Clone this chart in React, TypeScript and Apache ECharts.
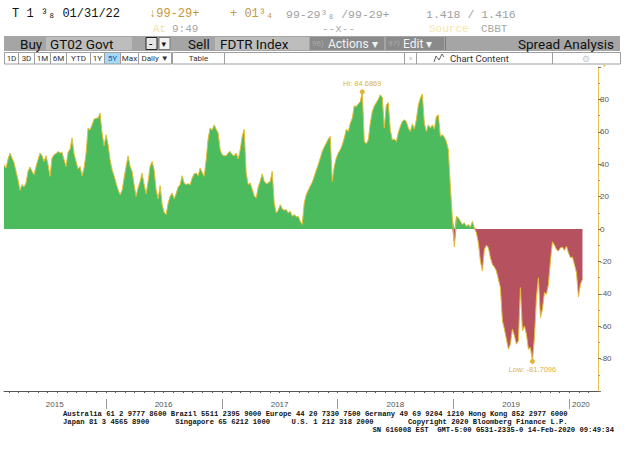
import { useEffect, useRef } from 'react';
import * as echarts from 'echarts';

// Spread GT02 Govt vs FDTR Index (bp), sampled every ~6 days
const firstDate = '2015-02-14';
const lastDate = '2020-02-12';
const spreadBp = [
  39.7, 37.6, 43.2, 46.9, 43.8, 41.1, 35.6, 30.5, 23.9, 27.4,
  26.0, 28.4, 35.6, 38.3, 35.6, 33.5, 38.6, 42.8, 46.9, 45.2,
  41.7, 45.2, 39.7, 32.5, 43.8, 45.8, 46.5, 47.9, 46.9, 47.3,
  42.8, 38.6, 47.3, 49.3, 56.1, 46.5, 41.7, 37.0, 38.6, 32.9,
  37.6, 46.9, 62.3, 61.2, 64.3, 67.8, 68.4, 68.4, 71.5, 59.2,
  51.4, 58.2, 52.0, 42.8, 36.6, 32.9, 28.4, 24.3, 21.2, 23.9,
  31.5, 38.6, 45.2, 38.6, 35.6, 27.4, 20.2, 25.3, 29.4, 34.5,
  27.4, 21.8, 29.4, 38.6, 41.7, 36.6, 24.3, 18.6, 26.8, 15.1,
  10.3, 8.9, 16.1, 20.2, 22.2, 18.6, 21.8, 25.9, 27.4, 32.9,
  28.4, 27.4, 28.0, 27.4, 31.5, 34.1, 34.5, 32.9, 37.6, 35.0,
  32.5, 42.8, 56.1, 62.3, 61.2, 64.3, 61.6, 59.2, 48.9, 45.8,
  45.2, 45.2, 46.9, 47.9, 45.8, 45.2, 46.9, 43.2, 48.9, 57.1,
  61.6, 34.6, 27.4, 28.4, 24.7, 20.6, 19.2, 25.9, 29.4, 34.1,
  29.4, 28.0, 28.4, 29.4, 35.6, 16.1, 9.9, 11.6, 15.1, 12.4,
  11.6, 12.0, 9.9, 11.0, 7.9, 8.9, 7.5, 7.9, 4.8, 2.8,
  16.1, 21.2, 23.9, 26.4, 28.8, 32.5, 36.2, 39.7, 43.8, 47.9,
  50.6, 53.0, 55.5, 57.1, 29.4, 38.6, 43.8, 46.9, 48.9, 52.0,
  56.1, 61.6, 60.2, 65.3, 68.4, 76.0, 75.6, 77.2, 78.7, 84.6869,
  54.0, 52.6, 55.0, 65.3, 72.5, 76.0, 78.0, 80.1, 82.8, 81.3,
  62.3, 76.6, 78.0, 61.2, 55.0, 55.5, 54.0, 59.6, 63.3, 66.4,
  67.4, 66.4, 62.3, 60.2, 64.9, 61.6, 67.4, 76.6, 80.7, 83.4,
  65.3, 60.2, 64.3, 62.3, 64.3, 61.6, 69.4, 70.5, 57.1, 58.2,
  56.7, 54.0, 48.9, 26.4, 6.9, -11.0, 7.9, 6.9, 4.8, 2.8,
  3.8, 1.7, 2.8, 1.1, 4.8, 0.7, -2.4, -8.5, -19.8, -26.0,
  -12.6, -10.0, -11.6, -17.7, -21.9, -23.5, -26.0, -31.1, -36.2, -56.7,
  -61.8, -68.0, -74.2, -71.1, -61.8, -65.9, -71.1, -69.0, -36.2, -62.9,
  -59.8, -65.0, -74.2, -73.1, -81.7096, -67.0, -42.4, -30.1, -54.7, -49.5,
  -39.3, -40.3, -34.2, -19.8, -7.9, -10.0, -12.6, -13.6, -11.6, -11.2,
  -13.2, -10.6, -14.7, -17.7, -17.3, -21.9, -27.0, -42.0, -34.0, -31.1,
];

const axisStart = '2015-02-14';
const axisEnd = '2020-04-01';
const yearLabels = ['2015', '2016', '2017', '2018', '2019', '2020'];
const yearLabelDates = ['2015-07-24', '2016-07-01', '2017-07-02', '2018-07-02', '2019-07-02', '2020-02-07'];
const yearStartDates = ['2016-01-01', '2017-01-01', '2018-01-01', '2019-01-01', '2020-01-01'];
const yMin = -100;
const yMax = 100;
const yInterval = 20;

const footerLines = [
  'Australia 61 2 9777 8600 Brazil 5511 2395 9000 Europe 44 20 7330 7500 Germany 49 69 9204 1210 Hong Kong 852 2977 6000',
  'Japan 81 3 4565 8900      Singapore 65 6212 1000     U.S. 1 212 318 2000        Copyright 2020 Bloomberg Finance L.P.',
  'SN 616008 EST  GMT-5:00 G531-2335-0 14-Feb-2020 09:49:34',
];

const ts = (d: string) => new Date(d + 'T00:00:00Z').getTime();

const GREEN = '#4CBB5E';
const RED = '#B6525F';
const GOLD = '#E3BE3A';

function txt(x: number, y: number, text: string, fill: string, size: number, family = 'Liberation Mono', extra: any = {}) {
  return {
    type: 'text',
    x,
    y,
    silent: true,
    style: { text, fill, fontSize: size, fontFamily: family, verticalAlign: 'middle', align: 'left', ...extra },
  };
}
function box(x: number, y: number, w: number, h: number, fill: string, stroke?: string) {
  return {
    type: 'rect',
    silent: true,
    shape: { x, y, width: w, height: h },
    style: { fill, stroke: stroke || null, lineWidth: stroke ? 1 : 0 },
  };
}

export default function App() {
  const ref = useRef<HTMLDivElement>(null);
  useEffect(() => {
    if (!ref.current) return;
    const chart = echarts.init(ref.current, null, { renderer: 'svg' });
    const t0 = ts(firstDate);
    const t1 = ts(lastDate);
    const n = spreadBp.length;
    const dates = spreadBp.map((_, i) => t0 + ((t1 - t0) * i) / (n - 1));
    const full = spreadBp.map((v, i) => [dates[i], v]);
    const pos = spreadBp.map((v, i) => [dates[i], v > 0 ? v : 0]);
    const neg = spreadBp.map((v, i) => [dates[i], v < 0 ? v : 0]);

    const monthTicks: number[] = [];
    for (let y = 2015; y <= 2020; y++) {
      for (let m = 0; m < 12; m++) {
        const t = Date.UTC(y, m, 1);
        if (t > ts(axisStart) && t < ts(axisEnd)) monthTicks.push(t);
      }
    }
    const labelTs = yearLabelDates.map(ts);
    const sepTs = yearStartDates.map(ts);

    const btnFont = 'Roboto';
    const row4 = [
      [4, 14, '1D'], [18, 16, '3D'], [34, 16, '1M'], [50, 16, '6M'], [66, 24, 'YTD'], [90, 14, '1Y'],
      [104, 16, '5Y'], [120, 18, 'Max'], [138, 33, 'Daily ▼'], [172, 52, 'Table'], [224, 180, ''],
      [404, 12, '«'], [416, 136, 'Chart Content'], [552, 68, ''],
    ] as [number, number, string][];

    const graphic: any[] = [
      txt(12, 14, 'T 1 ³₈ 01/31/22', '#111', 12),
      txt(149, 14, '↓99-29+', '#C8963C', 12),
      txt(230, 14, '+ 01³₄', '#C8963C', 12),
      txt(286, 14, '99-29³₈ /99-29+', '#A0A0A0', 11.5),
      txt(426, 14, '1.418 / 1.416', '#A0A0A0', 11.5),
      txt(153, 29, 'At', '#F2E2A6', 11),
      txt(172, 29, '9:49', '#A8A8A8', 11),
      txt(322, 29, '--x--', '#B0B0B0', 11),
      txt(429, 29, 'Source', '#F4E6B0', 11),
      txt(481, 29, 'CBBT', '#A8A8A8', 11),
      box(4, 36, 616, 15, '#A5A5A5'),
      txt(20, 43.5, 'Buy', '#111', 13.5, btnFont),
      box(46, 37, 86, 13, '#BDBDBD'),
      txt(50, 43.5, 'GT02 Govt', '#111', 13.5, btnFont),
      box(146, 37.5, 11, 12, '#E6E6E6', '#222'),
      txt(149, 43.5, '-', '#111', 12, btnFont),
      box(159, 37.5, 11, 12, '#F2F2F2', '#777'),
      txt(161.5, 44, '▾', '#111', 9, 'DejaVu Sans'),
      txt(188, 43.5, 'Sell', '#111', 13.5, btnFont),
      box(215, 37, 94, 13, '#BDBDBD'),
      txt(220, 43.5, 'FDTR Index', '#111', 13.5, btnFont),
      box(310, 37, 74, 13, '#8A8A8A'),
      txt(312, 43.5, '96)', '#ABABAB', 8, btnFont),
      txt(328, 43.5, 'Actions ▾', '#F2F2F2', 12, btnFont),
      box(386, 37, 58, 13, '#8A8A8A'),
      txt(388, 43.5, '97)', '#ABABAB', 8, btnFont),
      txt(403, 43.5, 'Edit ▾', '#F2F2F2', 12, btnFont),
      box(445, 37, 1, 13, '#7A7A7A'),
      txt(614, 43.5, 'Spread Analysis', '#111', 13.5, btnFont, { align: 'right' }),
    ];
    row4.forEach(([x, w, label]) => {
      const active = label === '5Y';
      graphic.push(box(x + 0.5, 52.5, w, 11.5, active ? '#A6D8F7' : '#FFFFFF', '#9E9E9E'));
      if (label) {
        const cc = label === 'Chart Content';
        graphic.push(
          txt(cc ? x + 34 : x + w / 2 + 0.5, 58.5, label,
            active ? '#1F5FA8' : label === '«' ? '#B5B5B5' : '#333', cc ? 9.5 : 8, btnFont,
            { align: cc ? 'left' : 'center' }),
        );
      }
    });
    graphic.push(
      { type: 'polyline', silent: true, shape: { points: [[434, 62], [436, 56], [439, 60], [442, 54], [444, 57]] }, style: { stroke: '#666', lineWidth: 1, fill: null } },
      txt(586, 58.5, '⚙', '#C8C8C8', 9, 'DejaVu Sans', { align: 'center' }),
      { type: 'polygon', silent: true, shape: { points: [[603, 65], [606, 65], [604.5, 67]] }, style: { fill: '#E8C440' } },
      txt(63, 414, footerLines[0], '#111', 7.2, 'Liberation Mono', { fontWeight: 'bold' }),
      txt(63, 422, footerLines[1], '#111', 7.2, 'Liberation Mono', { fontWeight: 'bold' }),
      txt(614, 430, footerLines[2], '#111', 7.2, 'Liberation Mono', { fontWeight: 'bold', align: 'right' }),
    );

    chart.setOption({
      animation: false,
      backgroundColor: '#FFFFFF',
      grid: { left: 4, right: 26, top: 67, bottom: 59, containLabel: false },
      xAxis: [
        {
          type: 'value',
          min: ts(axisStart),
          max: ts(axisEnd),
          position: 'bottom',
          axisLine: { show: true, onZero: false, lineStyle: { color: '#555', width: 1 } },
          axisTick: { show: true, customValues: monthTicks, length: 2, lineStyle: { color: '#555' } },
          axisLabel: {
            show: true,
            customValues: labelTs,
            margin: 9,
            color: '#555',
            fontSize: 8,
            fontFamily: 'Liberation Sans',
            showMinLabel: true,
            showMaxLabel: true,
            formatter: (v: number) => {
              const i = labelTs.findIndex((t) => Math.abs(t - v) < 86400000);
              return i >= 0 ? yearLabels[i] : '';
            },
          },
          splitLine: { show: false },
        },
        {
          type: 'value',
          min: ts(axisStart),
          max: ts(axisEnd),
          position: 'bottom',
          offset: 8,
          axisLine: { show: false, onZero: false },
          axisTick: { show: true, customValues: sepTs, length: 10, lineStyle: { color: '#9A9A9A' } },
          axisLabel: { show: false },
          splitLine: { show: false },
        },
      ],
      yAxis: {
        type: 'value',
        position: 'right',
        min: yMin,
        max: yMax,
        interval: yInterval,
        axisLine: { show: true, lineStyle: { color: '#E5C44E', width: 1 } },
        axisTick: { show: true, length: 3, lineStyle: { color: '#777' } },
        minorTick: { show: true, splitNumber: 2, length: 2, lineStyle: { color: '#999' } },
        splitLine: { show: false },
        axisLabel: {
          margin: 2,
          color: '#555',
          fontSize: 8,
          fontFamily: 'Liberation Sans',
          formatter: (v: number) => (Math.abs(v) >= 100 ? '' : String(v)),
        },
      },
      series: [
        {
          type: 'line',
          data: pos,
          xAxisIndex: 0,
          showSymbol: false,
          lineStyle: { width: 0 },
          areaStyle: { color: GREEN, opacity: 1 },
          silent: true,
        },
        {
          type: 'line',
          data: neg,
          xAxisIndex: 0,
          showSymbol: false,
          lineStyle: { width: 0 },
          areaStyle: { color: RED, opacity: 1 },
          silent: true,
        },
        {
          type: 'line',
          data: full,
          xAxisIndex: 0,
          showSymbol: false,
          lineStyle: { width: 1, color: GOLD },
          silent: true,
          markPoint: {
            symbol: 'circle',
            symbolSize: 5,
            itemStyle: { color: '#E0B43A' },
            data: [
              { type: 'max', label: { position: 'top', distance: 2, formatter: (p: any) => 'Hi: ' + Number(p.value).toFixed(4) } },
              { type: 'min', label: { position: 'bottom', distance: 2, formatter: (p: any) => 'Low: ' + Number(p.value).toFixed(4) } },
            ],
            label: { color: '#D9B440', fontSize: 7.5, fontFamily: 'Liberation Sans' },
          },
        },
      ],
      graphic,
    });
    return () => chart.dispose();
  }, []);
  return <div ref={ref} style={{ position: 'absolute', left: 0, top: 0, width: 624, height: 450, background: '#fff' }} />;
}
